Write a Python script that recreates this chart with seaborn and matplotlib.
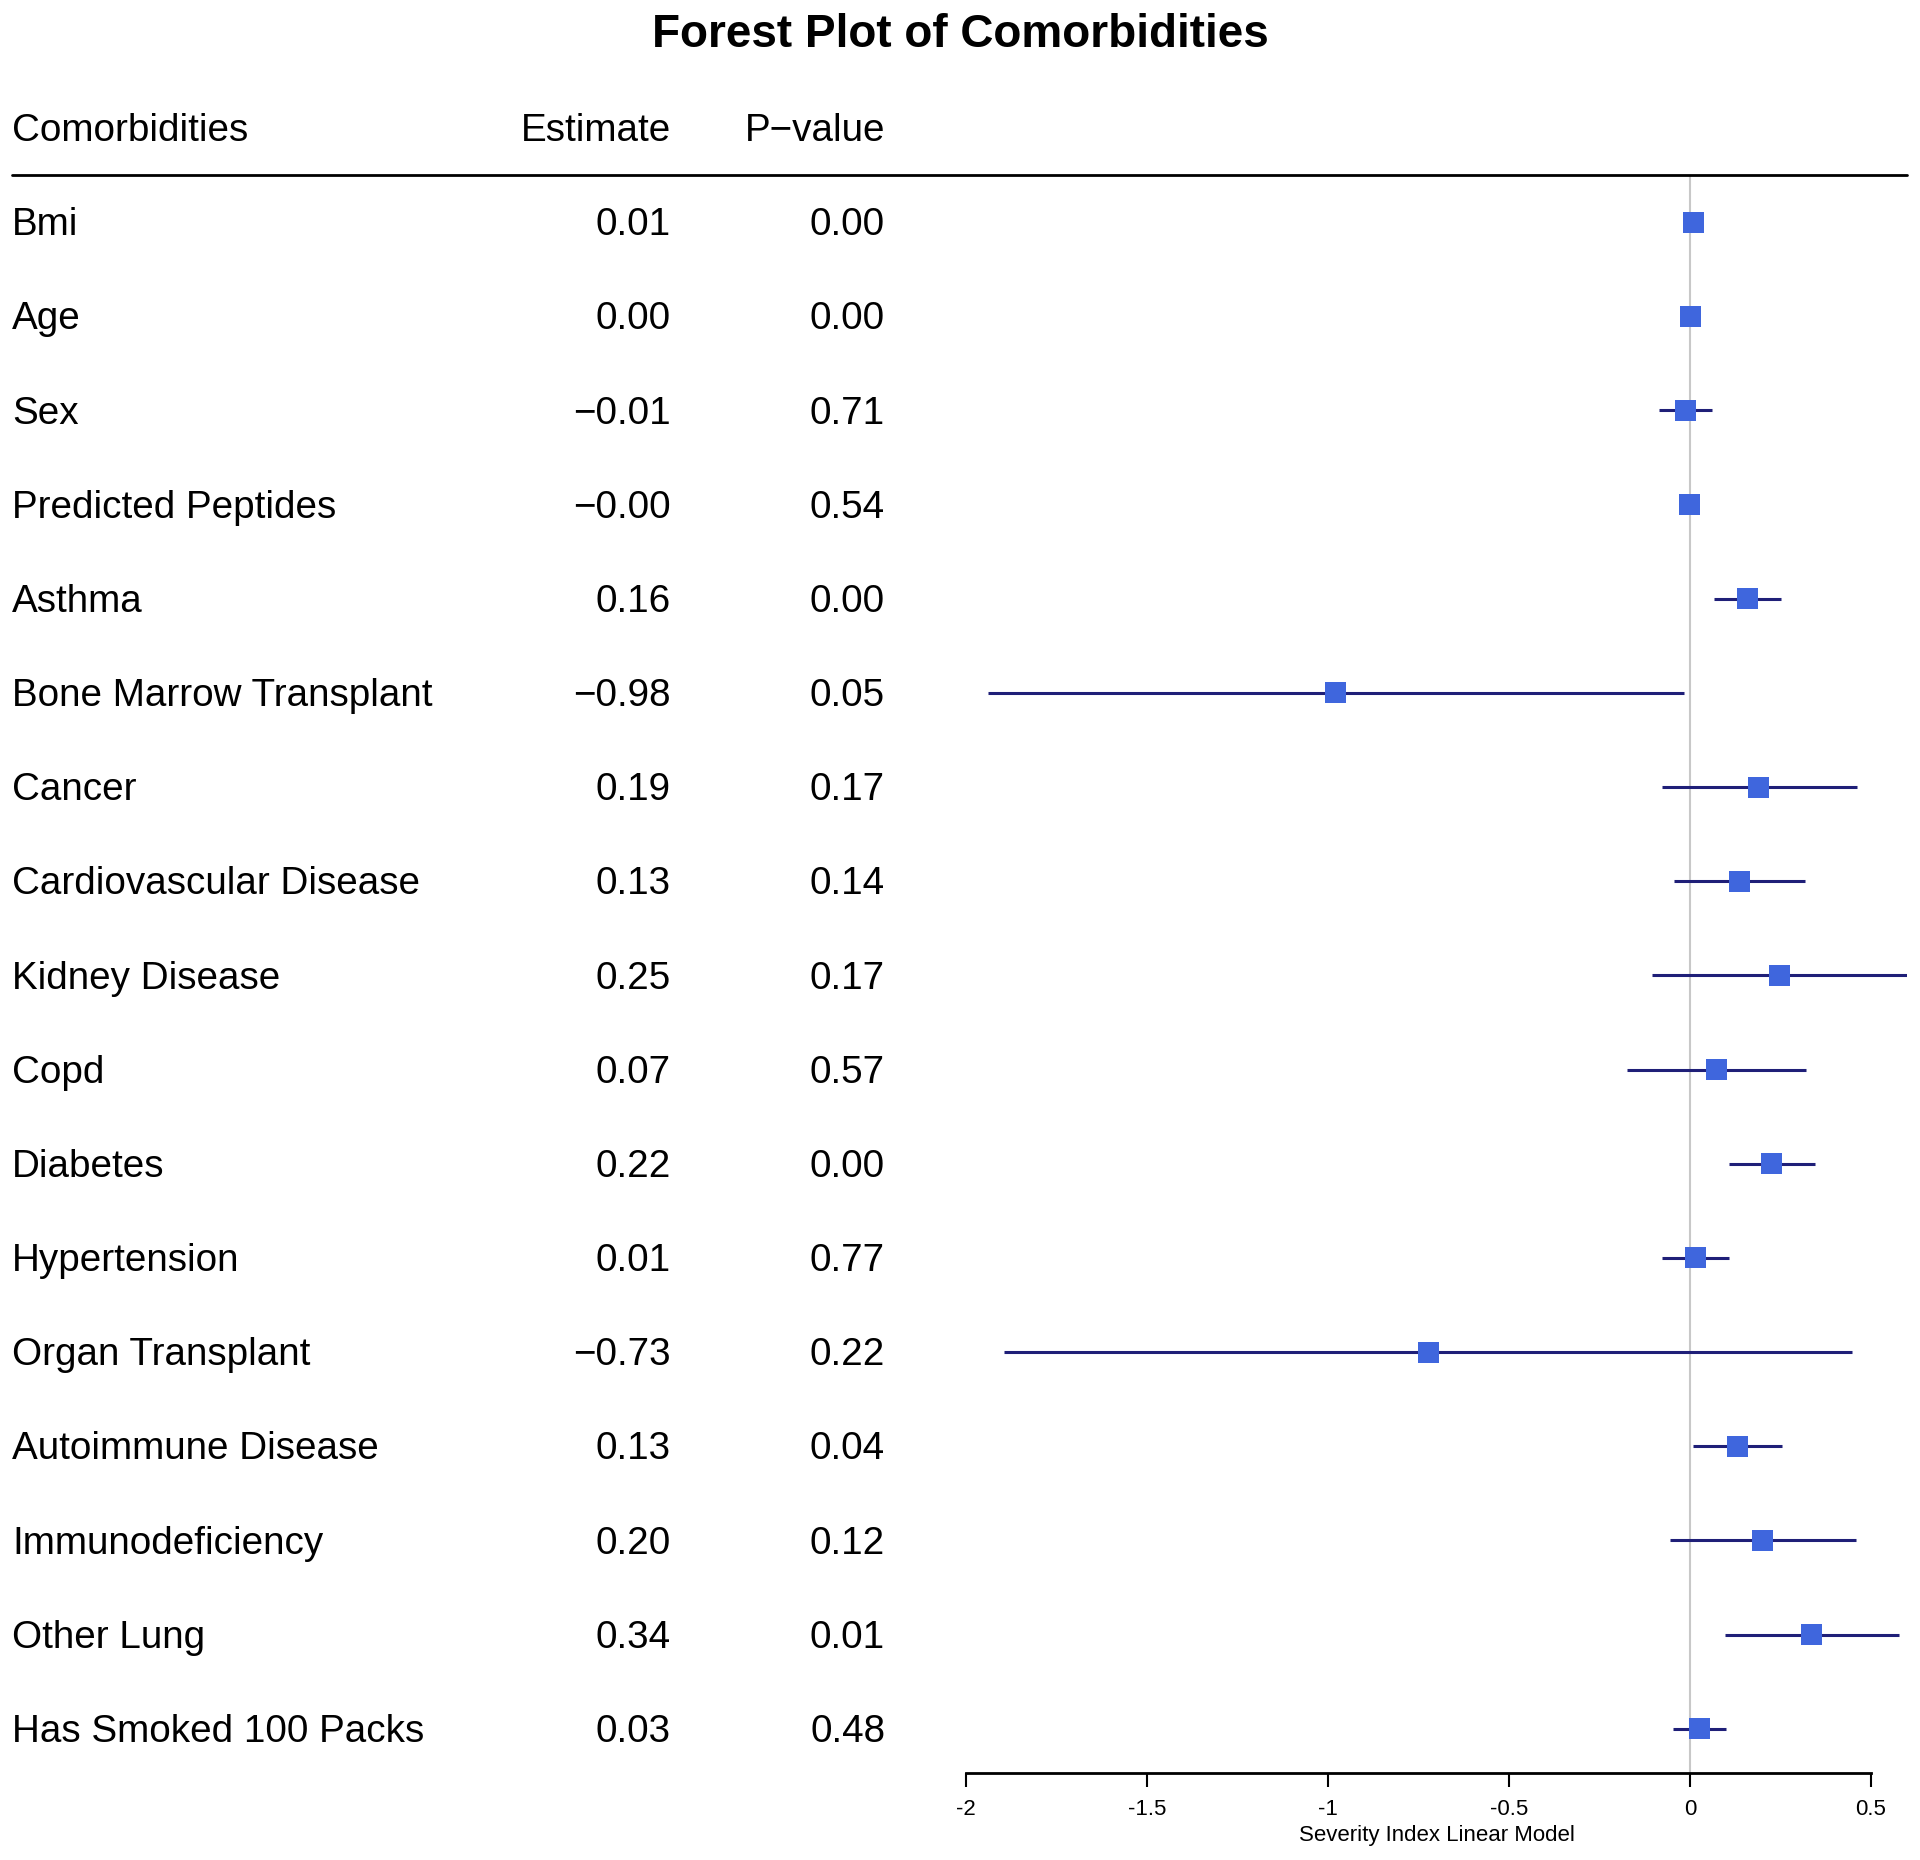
import numpy as np
import pandas as pd
import matplotlib
matplotlib.use('Agg')
import matplotlib.pyplot as plt
import matplotlib.transforms as mtransforms
from matplotlib.lines import Line2D
import seaborn as sns

# values
comorbidities = ['Bmi', 'Age', 'Sex', 'Predicted Peptides', 'Asthma',
                 'Bone Marrow Transplant', 'Cancer', 'Cardiovascular Disease',
                 'Kidney Disease', 'Copd', 'Diabetes', 'Hypertension',
                 'Organ Transplant', 'Autoimmune Disease', 'Immunodeficiency',
                 'Other Lung', 'Has Smoked 100 Packs']
estimate_txt = ['0.01', '0.00', '\u22120.01', '\u22120.00', '0.16', '\u22120.98', '0.19', '0.13',
                '0.25', '0.07', '0.22', '0.01', '\u22120.73', '0.13', '0.20', '0.34', '0.03']
pvalue_txt = ['0.00', '0.00', '0.71', '0.54', '0.00', '0.05', '0.17', '0.14',
              '0.17', '0.57', '0.00', '0.77', '0.22', '0.04', '0.12', '0.01', '0.48']
estimate = [0.009, 0.003, -0.012, -0.002, 0.159, -0.979, 0.190, 0.136,
            0.247, 0.073, 0.226, 0.016, -0.723, 0.131, 0.200, 0.337, 0.028]
ci_low = [0.004, -0.001, -0.086, -0.006, 0.066, -1.939, -0.078, -0.043,
          -0.104, -0.173, 0.107, -0.076, -1.894, 0.009, -0.055, 0.097, -0.047]
ci_high = [0.014, 0.007, 0.060, 0.002, 0.252, -0.017, 0.461, 0.318,
           0.600, 0.321, 0.347, 0.107, 0.447, 0.256, 0.458, 0.578, 0.100]

x_ticks = [-2, -1.5, -1, -0.5, 0, 0.5]
x_ticklabels = ['-2', '-1.5', '-1', '-0.5', '0', '0.5']

df = pd.DataFrame({'name': comorbidities, 'estimate': estimate,
                   'low': ci_low, 'high': ci_high,
                   'est_txt': estimate_txt, 'p_txt': pvalue_txt})
df['row'] = np.arange(len(df))

sns.set_theme(style='white')
plt.rcParams['font.family'] = ['Liberation Sans', 'DejaVu Sans']
plt.rcParams['text.color'] = 'black'
plt.rcParams['axes.labelcolor'] = 'black'

W, H = 1920, 1860
fig = plt.figure(figsize=(W / 100, H / 100), dpi=100)
ax = fig.add_axes([966 / W, 87 / H, 941 / W, 1598 / H])

ax.axvline(0, color='#c8c8c8', lw=1.5, zorder=1)
ax.hlines(df['row'], df['low'], df['high'], color='#1f1f78', lw=2.2, zorder=2)
sns.scatterplot(data=df, x='estimate', y='row', marker='s', s=228,
                color='#3f66dd', edgecolor='none', linewidth=0, ax=ax, zorder=3)

ax.set_xlim(-2, 0.6)
ax.set_ylim(len(df) - 0.53, -0.5)
ax.set_yticks([])
ax.set_ylabel('')
for s in ['left', 'top', 'right']:
    ax.spines[s].set_visible(False)
ax.spines['bottom'].set_bounds(-2, 0.5)
ax.spines['bottom'].set_linewidth(2)
ax.spines['bottom'].set_color('black')
ax.set_xticks(x_ticks)
ax.set_xticklabels(x_ticklabels)
ax.tick_params(axis='x', bottom=True, direction='out', length=10, width=1.5,
               pad=9, labelsize=16, colors='black')
ax.set_xlabel('Severity Index Linear Model', fontsize=16, labelpad=3, color='black')

# table part of the figure
trans = mtransforms.blended_transform_factory(fig.transFigure, ax.transData)
txt_trans = mtransforms.offset_copy(trans, fig=fig, y=-2.3, units='points')
fs = 27.8
ax.text(12 / W, -1, 'Comorbidities', transform=txt_trans, ha='left', va='center', fontsize=fs, clip_on=False)
ax.text(671 / W, -1, 'Estimate', transform=txt_trans, ha='right', va='center', fontsize=fs, clip_on=False)
ax.text(885 / W, -1, 'P\u2212value', transform=txt_trans, ha='right', va='center', fontsize=fs, clip_on=False)
for _, r in df.iterrows():
    ax.text(12 / W, r['row'], r['name'], transform=txt_trans, ha='left', va='center', fontsize=fs, clip_on=False)
    ax.text(671 / W, r['row'], r['est_txt'], transform=txt_trans, ha='right', va='center', fontsize=fs, clip_on=False)
    ax.text(885 / W, r['row'], r['p_txt'], transform=txt_trans, ha='right', va='center', fontsize=fs, clip_on=False)

fig.add_artist(Line2D([12 / W, 1907 / W], [-0.5, -0.5], transform=trans, color='black', lw=2))

fig.suptitle('Forest Plot of Comorbidities', y=1 - 35 / H, va='center',
             fontsize=33, fontweight='bold', color='black')

fig.savefig('out.png', dpi=100)
